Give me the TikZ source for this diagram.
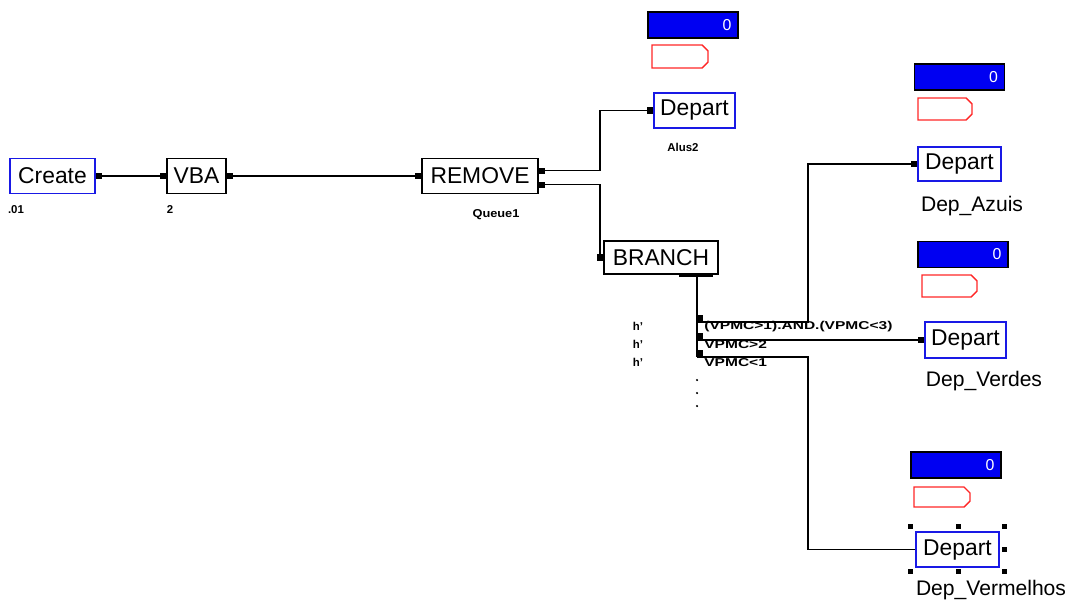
\documentclass[tikz,border=0pt]{standalone}
\usepackage{fontspec}
\setmainfont{Liberation Sans}
\usetikzlibrary{calc}
\definecolor{BlockClr}{rgb}{0.1,0.1,0.9}
\definecolor{AnimClr}{rgb}{1,0.15,0.15}
\definecolor{CountClr}{rgb}{0,0,0.95}

\begin{document}
\begin{tikzpicture}[x=0.02cm,y=-0.02cm,
  block/.style={draw=black,line width=0.8pt,inner sep=0pt,font=\fontsize{13}{13}\selectfont,minimum height=0.7cm},
  srcblock/.style={block,draw=BlockClr},
  counter/.style={draw=black,line width=0.8pt,fill=CountClr,text=white,minimum width=1.8cm,minimum height=0.52cm,text width=1.54cm,align=right,inner xsep=0.13cm,inner ysep=0pt,font=\fontsize{9}{9}\selectfont},
  port/.style={fill=black,inner sep=0pt,minimum width=3.2pt,minimum height=3.6pt},
  smalltag/.style={font=\fontsize{6.5}{7}\bfseries},
  cond/.style={smalltag,anchor=west,inner xsep=0pt},
  deplabel/.style={font=\fontsize{12}{12}\selectfont},
  wire/.style={line width=0.7pt}]
\useasboundingbox (0,0) rectangle (1070,606);

% blocks
\node[srcblock,minimum width=1.7cm] (create) at (52.5,176) {Create};
\node[block,minimum width=1.18cm] (vba) at (196.5,176) {VBA};
\node[block,minimum width=2.32cm] (remove) at (480,176) {REMOVE};
\node[srcblock,minimum width=1.62cm] (dep1) at (694.5,110.5) {Depart};
\node[block,minimum width=2.28cm,minimum height=0.66cm] (branch) at (661,257.5) {BRANCH};
\node[srcblock,minimum width=1.66cm,minimum height=0.68cm] (depA) at (959.5,164) {Depart};
\node[srcblock,minimum width=1.62cm,minimum height=0.72cm] (depV) at (965.5,340) {Depart};
\node[srcblock,minimum width=1.66cm] (depR) at (957.5,549.5) {Depart};

% counters and animation boxes
\node[counter] (cnt1) at (693,25) {0};
\node[counter] (cntA) at (959.5,77) {0};
\node[counter] (cntV) at (963,254.5) {0};
\node[counter] (cntR) at (956,465) {0};
\foreach \ax/\ay/\bx/\by in {652/45/708/68, 918/98/972/120, 922/275/977/297, 914/487/970/507}
  \draw[AnimClr,line width=0.8pt] (\ax,\ay) -- (\bx-6,\ay) -- (\bx,\ay+6) -- (\bx,\by-6) -- (\bx-6,\by) -- (\ax,\by) -- cycle;

% ports
\node[port,anchor=west] (pcreate) at (create.east) {};
\node[port,anchor=east] (pvbain) at (vba.west) {};
\node[port,anchor=west] (pvbaout) at (vba.east) {};
\node[port,anchor=east] (premin) at (remove.west) {};
\node[port,anchor=west] (prem1) at ([yshift=3pt]remove.east) {};
\node[port,anchor=west] (prem2) at ([yshift=-5pt]remove.east) {};
\node[port,anchor=east] (pdep1) at (dep1.west) {};
\node[port,anchor=east] (pbranch) at (branch.west) {};
\node[port,anchor=east] (pdepA) at (depA.west) {};
\node[port,anchor=east] (pdepV) at (depV.west) {};
\draw[line width=2.2pt] ([xshift=0.36cm]branch.south) -- ([xshift=1.04cm]branch.south);

\coordinate (bout) at (697,274);
\coordinate (b1) at (697,322);
\coordinate (b2) at (697,340);
\coordinate (b3) at (697,357);
\foreach \c in {b1,b2,b3}
  \node[port,anchor=south west] at (\c) {};

% connections
\draw[wire] (pcreate) -- (pvbain);
\draw[wire] (pvbaout) -- (premin);
\draw[wire] (prem1.east) -- ++(55,0) |- (pdep1);
\draw[wire] (prem2.east) -- ++(55,0) |- (pbranch);
\draw[wire] (bout) -- (b3);
\draw[wire] (b1) -- ++(111,0) |- (pdepA);
\draw[wire] (b2) -- (pdepV);
\draw[wire] (b3) -- ++(111,0) |- (depR.west);
\foreach \y in {380,393,406}
  \fill (697,\y) circle (0.7pt);

% selection handles
\foreach \hx/\hy in {910/526,958/526,1004/526,1004/549,1004/571,958/571,910/571}
  \fill (\hx-2.5,\hy-2.5) rectangle ++(5,5);

% labels
\node[smalltag] (lcreate) at (16,210) {.01};
\node[smalltag] (lvba) at (170,210) {2};
\node[smalltag] (lrem) at (496,215) {\scalebox{1.12}[1]{Queue1}};
\node[smalltag] (ldep1) at (683,147) {Alus2};
\node[cond] (c1) at (704,327) {\scalebox{1.36}[1]{(VPMC>1).AND.(VPMC<3)}};
\node[cond] (c2) at (704,345) {\scalebox{1.36}[1]{VPMC>2}};
\node[cond] (c3) at (704,363) {\scalebox{1.36}[1]{VPMC<1}};
\foreach \y in {326,344,362}
  \node[smalltag] at (638,\y) {h'};
\node[deplabel] (ldepA) at (972,206) {Dep\_Azuis};
\node[deplabel] (ldepV) at (984,381) {Dep\_Verdes};
\node[deplabel] (ldepR) at (991,590) {Dep\_Vermelhos};
\end{tikzpicture}
\end{document}
